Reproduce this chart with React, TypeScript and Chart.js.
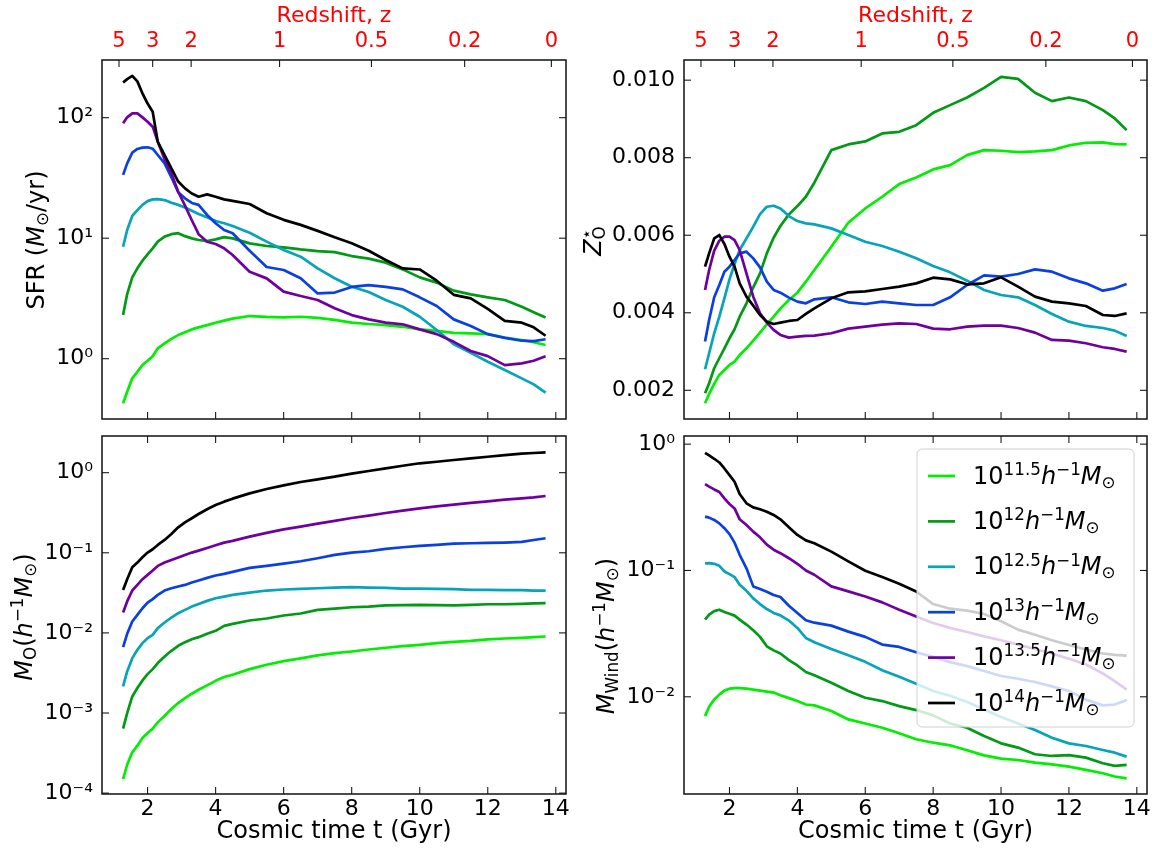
import React, { useEffect, useRef } from "react";
import { Chart, registerables } from "chart.js";

Chart.register(...registerables);
Chart.defaults.font.family = '"DejaVu Sans", sans-serif';

// ---------------- data ----------------
const TIME = [1.28, 1.4, 1.55, 1.7, 1.85, 2.0, 2.15, 2.3, 2.5, 2.7, 2.9, 3.1, 3.3, 3.5, 3.75, 4.0, 4.25, 4.5, 5.0, 5.5, 6.0, 6.5, 7.0, 7.5, 8.0, 8.5, 9.0, 9.5, 10.0, 10.5, 11.0, 11.5, 12.0, 12.5, 13.0, 13.35, 13.7];

// SFR (Msun/yr)
const SFR_LIME = [0.426, 0.532, 0.687, 0.78, 0.885, 0.962, 1.05, 1.22, 1.34, 1.46, 1.57, 1.66, 1.75, 1.82, 1.9, 1.99, 2.07, 2.15, 2.26, 2.22, 2.2, 2.23, 2.18, 2.1, 1.99, 1.94, 1.9, 1.84, 1.75, 1.7, 1.64, 1.62, 1.6, 1.5, 1.43, 1.37, 1.3];
const SFR_GREEN = [2.3, 3.44, 4.73, 5.62, 6.51, 7.34, 8.24, 9.36, 10.3, 10.8, 11.0, 10.4, 9.97, 9.66, 9.47, 9.78, 10.2, 9.97, 9.06, 8.61, 8.39, 8.07, 7.82, 7.67, 7.11, 6.76, 6.27, 5.51, 4.73, 4.28, 3.67, 3.42, 3.23, 3.07, 2.7, 2.43, 2.2];
const SFR_TEAL = [8.5, 11.7, 15.3, 17.1, 18.9, 20.3, 21.0, 21.1, 20.7, 19.7, 18.9, 18.0, 16.9, 15.9, 14.9, 13.9, 13.3, 12.6, 11.1, 9.36, 7.98, 7.02, 5.62, 4.65, 3.96, 3.58, 3.07, 2.7, 2.23, 1.73, 1.32, 1.12, 0.944, 0.805, 0.687, 0.612, 0.523];
const SFR_BLUE = [33.5, 41.8, 51.3, 55.0, 56.4, 56.8, 55.3, 49.0, 41.8, 32.0, 24.1, 21.4, 19.6, 18.9, 15.6, 13.3, 11.7, 11.0, 7.87, 5.77, 5.45, 4.65, 3.48, 3.54, 3.94, 4.08, 3.94, 3.76, 3.23, 2.74, 2.12, 1.87, 1.6, 1.49, 1.41, 1.4, 1.45];
const SFR_PURPLE = [89.7, 100.6, 108.6, 108.6, 100.6, 92.6, 84.2, 63.2, 45.1, 34.5, 24.3, 18.6, 14.1, 10.8, 9.35, 8.95, 8.24, 7.25, 5.27, 4.64, 3.6, 3.31, 3.07, 2.62, 2.3, 2.12, 1.99, 1.93, 1.75, 1.6, 1.38, 1.16, 1.05, 0.885, 0.914, 0.962, 1.05];
const SFR_BLACK = [196, 209, 222, 200, 159, 131, 112, 63, 49, 38, 29.5, 25.9, 23.5, 22.1, 23.1, 22.1, 21.0, 20.4, 19.2, 16.1, 14.2, 12.9, 11.5, 10.2, 9.06, 7.87, 6.59, 5.62, 5.5, 4.44, 3.39, 3.17, 2.59, 2.06, 1.99, 1.82, 1.55];

// Stellar oxygen metallicity
const Z_LIME = [0.001667, 0.001907, 0.002165, 0.002397, 0.002526, 0.002655, 0.002741, 0.002912, 0.003084, 0.003282, 0.003488, 0.003703, 0.0039, 0.004107, 0.00433, 0.004519, 0.004802, 0.005103, 0.005704, 0.006323, 0.006692, 0.006993, 0.00732, 0.007491, 0.007698, 0.007809, 0.008067, 0.008196, 0.008179, 0.008144, 0.008162, 0.008196, 0.008316, 0.008385, 0.008393, 0.008351, 0.008342];
const Z_GREEN = [0.001924, 0.002182, 0.002569, 0.002827, 0.003084, 0.003342, 0.003574, 0.0039, 0.004244, 0.004656, 0.005017, 0.005533, 0.005936, 0.006237, 0.006538, 0.006753, 0.006993, 0.007354, 0.008196, 0.008342, 0.008419, 0.008625, 0.008668, 0.00884, 0.009158, 0.009356, 0.009553, 0.009802, 0.010086, 0.010034, 0.009674, 0.009459, 0.009553, 0.009459, 0.009227, 0.009012, 0.008711];
const Z_TEAL = [0.002543, 0.002955, 0.003471, 0.0039, 0.004373, 0.004863, 0.005258, 0.005619, 0.005919, 0.00622, 0.006546, 0.006735, 0.006761, 0.006692, 0.006495, 0.006366, 0.006306, 0.00628, 0.006177, 0.006005, 0.005833, 0.005722, 0.005576, 0.005404, 0.005206, 0.005043, 0.004828, 0.004588, 0.004459, 0.004399, 0.004201, 0.003969, 0.003771, 0.00366, 0.003608, 0.00354, 0.003402];
const Z_BLUE = [0.003256, 0.003814, 0.004399, 0.004716, 0.00506, 0.005189, 0.005361, 0.005533, 0.005576, 0.005404, 0.005172, 0.004802, 0.004588, 0.004519, 0.00439, 0.004287, 0.004244, 0.004347, 0.004399, 0.00427, 0.004227, 0.004287, 0.004244, 0.004201, 0.004201, 0.004399, 0.004716, 0.004966, 0.004931, 0.005, 0.00512, 0.00506, 0.004888, 0.004759, 0.00457, 0.004631, 0.004742];
const Z_PURPLE = [0.004588, 0.005103, 0.005601, 0.005859, 0.005962, 0.005962, 0.005876, 0.005619, 0.005017, 0.004416, 0.003986, 0.003746, 0.003557, 0.003428, 0.003359, 0.003385, 0.003402, 0.003411, 0.003471, 0.003591, 0.003643, 0.003694, 0.003729, 0.003711, 0.003591, 0.003574, 0.003643, 0.003668, 0.003668, 0.003608, 0.003488, 0.003299, 0.003282, 0.003213, 0.00311, 0.003067, 0.002998];
const Z_BLACK = [0.005189, 0.005533, 0.005919, 0.006005, 0.005773, 0.005447, 0.005189, 0.004759, 0.004416, 0.004184, 0.003943, 0.003771, 0.003711, 0.003746, 0.003789, 0.003814, 0.003969, 0.004115, 0.004373, 0.004528, 0.004553, 0.004613, 0.004674, 0.004759, 0.004905, 0.004862, 0.004734, 0.004759, 0.004914, 0.004674, 0.004416, 0.004287, 0.004244, 0.004175, 0.003943, 0.003918, 0.003986];

// Oxygen mass (h^-1 Msun)
const MO_LIME = [0.00015, 0.000226, 0.000323, 0.000391, 0.000487, 0.000562, 0.000637, 0.000764, 0.000924, 0.00112, 0.00133, 0.00153, 0.00174, 0.00195, 0.00221, 0.00252, 0.00281, 0.003, 0.00353, 0.004, 0.00444, 0.0048, 0.00523, 0.00559, 0.00586, 0.00621, 0.00652, 0.00684, 0.0071, 0.00745, 0.00774, 0.00796, 0.00828, 0.00851, 0.00869, 0.00885, 0.00902];
const MO_GREEN = [0.000637, 0.000998, 0.00161, 0.00205, 0.00255, 0.00306, 0.00353, 0.0042, 0.00508, 0.00598, 0.0069, 0.00766, 0.00835, 0.00885, 0.00973, 0.01061, 0.01225, 0.01297, 0.01428, 0.01513, 0.01649, 0.01746, 0.0194, 0.0201, 0.0209, 0.0213, 0.022, 0.0222, 0.0224, 0.0222, 0.022, 0.0224, 0.0228, 0.0228, 0.023, 0.0233, 0.0235];
const MO_TEAL = [0.00215, 0.0033, 0.00484, 0.00615, 0.00745, 0.00859, 0.00946, 0.01146, 0.01349, 0.01556, 0.01762, 0.0194, 0.0213, 0.023, 0.0251, 0.0271, 0.0284, 0.0298, 0.0319, 0.0338, 0.0348, 0.0354, 0.0361, 0.0368, 0.0372, 0.0368, 0.0365, 0.0358, 0.0358, 0.0354, 0.0351, 0.0344, 0.0344, 0.0341, 0.0341, 0.0338, 0.0338];
const MO_BLUE = [0.00664, 0.00973, 0.01387, 0.0168, 0.0203, 0.0239, 0.0264, 0.0298, 0.0338, 0.0361, 0.0379, 0.0397, 0.0425, 0.045, 0.0486, 0.052, 0.0545, 0.0577, 0.0648, 0.0686, 0.0733, 0.0784, 0.0855, 0.094, 0.1006, 0.1045, 0.1117, 0.1172, 0.1218, 0.1254, 0.13, 0.1315, 0.1327, 0.134, 0.1367, 0.1446, 0.1518];
const MO_PURPLE = [0.01796, 0.0247, 0.0338, 0.0397, 0.0468, 0.053, 0.06, 0.0686, 0.0755, 0.0815, 0.0871, 0.094, 0.1006, 0.1065, 0.115, 0.124, 0.134, 0.141, 0.159, 0.177, 0.196, 0.212, 0.231, 0.25, 0.272, 0.291, 0.314, 0.336, 0.359, 0.38, 0.399, 0.419, 0.439, 0.461, 0.479, 0.492, 0.512];
const MO_BLACK = [0.0344, 0.0468, 0.066, 0.0755, 0.088, 0.1006, 0.1107, 0.1254, 0.1446, 0.1718, 0.208, 0.24, 0.27, 0.305, 0.349, 0.395, 0.435, 0.474, 0.552, 0.626, 0.695, 0.765, 0.826, 0.891, 0.972, 1.05, 1.13, 1.22, 1.31, 1.37, 1.44, 1.51, 1.58, 1.66, 1.73, 1.76, 1.79];

// Wind mass (h^-1 Msun)
const MW_LIME = [0.00703, 0.00834, 0.00952, 0.0104, 0.0112, 0.0116, 0.0117, 0.0117, 0.0116, 0.0114, 0.0112, 0.011, 0.0108, 0.0103, 0.00976, 0.00925, 0.00869, 0.00855, 0.00771, 0.00662, 0.00615, 0.00569, 0.00514, 0.00461, 0.00433, 0.00413, 0.00377, 0.00344, 0.00324, 0.00316, 0.00301, 0.00292, 0.0028, 0.00264, 0.00248, 0.00234, 0.00226];
const MW_GREEN = [0.0408, 0.0447, 0.0477, 0.0489, 0.0469, 0.0455, 0.0439, 0.0408, 0.0373, 0.0336, 0.0298, 0.0251, 0.0233, 0.022, 0.0195, 0.0177, 0.0157, 0.0148, 0.0129, 0.0111, 0.00982, 0.00925, 0.00844, 0.00785, 0.00713, 0.00615, 0.00569, 0.00489, 0.00428, 0.00396, 0.00351, 0.0034, 0.00345, 0.0033, 0.00298, 0.00284, 0.00289];
const MW_TEAL = [0.1136, 0.1143, 0.1129, 0.1089, 0.0982, 0.0935, 0.0886, 0.077, 0.069, 0.0601, 0.0542, 0.0495, 0.0461, 0.0441, 0.0401, 0.0351, 0.0292, 0.027, 0.0239, 0.0213, 0.0189, 0.0162, 0.0144, 0.0127, 0.0111, 0.0102, 0.00908, 0.00794, 0.00691, 0.00615, 0.00545, 0.00474, 0.00428, 0.00408, 0.00379, 0.00361, 0.00336];
const MW_BLUE = [0.267, 0.262, 0.251, 0.236, 0.216, 0.194, 0.166, 0.133, 0.104, 0.0748, 0.0713, 0.0679, 0.0639, 0.0616, 0.0526, 0.0461, 0.0403, 0.0386, 0.0366, 0.0328, 0.0298, 0.0259, 0.0248, 0.0225, 0.0207, 0.0188, 0.0175, 0.016, 0.0146, 0.0139, 0.0131, 0.0121, 0.0111, 0.0095, 0.00855, 0.00869, 0.00941];
const MW_PURPLE = [0.483, 0.461, 0.438, 0.418, 0.372, 0.336, 0.31, 0.254, 0.229, 0.203, 0.183, 0.16, 0.146, 0.137, 0.125, 0.113, 0.1, 0.0925, 0.0748, 0.0683, 0.0623, 0.0559, 0.0489, 0.0433, 0.0384, 0.0351, 0.0326, 0.0301, 0.028, 0.0259, 0.0239, 0.022, 0.02, 0.018, 0.0153, 0.0133, 0.0114];
const MW_BLACK = [0.854, 0.814, 0.766, 0.716, 0.642, 0.569, 0.504, 0.403, 0.34, 0.316, 0.305, 0.292, 0.275, 0.254, 0.22, 0.191, 0.173, 0.164, 0.141, 0.118, 0.0994, 0.0886, 0.0785, 0.0682, 0.0542, 0.0498, 0.0481, 0.0452, 0.0396, 0.034, 0.031, 0.028, 0.0257, 0.0237, 0.022, 0.0215, 0.0212];

// series meta
const MASS_EXP = ["11.5", "12", "12.5", "13", "13.5", "14"];
const COLORS = ["#00ee00", "#009a14", "#06a4b8", "#0a40e2", "#6f00a0", "#000000"];

// axes
const X_MIN = 0.66;
const X_MAX = 14.3;
const X_TICKS = [2, 4, 6, 8, 10, 12, 14];
const Z_LABELS = ["5", "3", "2", "1", "0.5", "0.2", "0"];
const Z_TICK_TIMES = [1.16, 2.15, 3.28, 5.88, 8.58, 11.32, 13.87];
const METAL_TICKS = [0.002, 0.004, 0.006, 0.008, 0.01];

// ---------------- helpers ----------------
type Seg = { t: string; it?: boolean; pos?: "sup" | "sub"; over?: boolean };

const fontStr = (size: number, it?: boolean) =>
  `${it ? "italic " : ""}${size}px "DejaVu Sans"`;

function layoutRich(ctx: CanvasRenderingContext2D, segs: Seg[], base: number) {
  let x = 0;
  let prevStart = 0;
  let prevW = 0;
  const items: { s: Seg; size: number; sx: number; dy: number }[] = [];
  for (const s of segs) {
    const size = s.pos ? base * 0.7 : base;
    ctx.font = fontStr(size, s.it);
    const w = ctx.measureText(s.t).width;
    let sx = x;
    if (s.over) {
      sx = prevStart;
      x = prevStart + Math.max(prevW, w);
    } else {
      x += w;
    }
    const dy = s.pos === "sup" ? -0.36 * base : s.pos === "sub" ? 0.17 * base : 0;
    items.push({ s, size, sx, dy });
    prevStart = sx;
    prevW = w;
  }
  return { items, width: x };
}

function drawRich(ctx: CanvasRenderingContext2D, segs: Seg[], x: number, y: number, base: number, color: string) {
  const { items } = layoutRich(ctx, segs, base);
  ctx.fillStyle = color;
  ctx.textBaseline = "alphabetic";
  ctx.textAlign = "left";
  for (const it of items) {
    ctx.font = fontStr(it.size, it.s.it);
    ctx.fillText(it.s.t, x + it.sx, y + it.dy);
  }
}

function drawRichRotated(ctx: CanvasRenderingContext2D, segs: Seg[], bx: number, cy: number, base: number) {
  const { width } = layoutRich(ctx, segs, base);
  ctx.save();
  ctx.translate(bx, cy);
  ctx.rotate(-Math.PI / 2);
  drawRich(ctx, segs, -width / 2, 0, base, "#000");
  ctx.restore();
}

const SUP: Record<string, string> = { "0": "⁰", "1": "¹", "2": "²", "3": "³", "4": "⁴", "5": "⁵", "6": "⁶", "7": "⁷", "8": "⁸", "9": "⁹", "-": "⁻" };
const powLabel = (v: number) => "10" + String(Math.round(Math.log10(v))).split("").map((c) => SUP[c] || c).join("");

function logTicks(min: number, max: number) {
  const out: { value: number; major: boolean }[] = [];
  for (let e = Math.floor(Math.log10(min)); e <= Math.ceil(Math.log10(max)); e++) {
    for (let k = 1; k <= 9; k++) {
      const v = k * Math.pow(10, e);
      if (v >= min * 0.9999 && v <= max * 1.0001) out.push({ value: v, major: k === 1 });
    }
  }
  return out;
}

const legendSegs = (exp: string): Seg[] => [
  { t: "10" },
  { t: exp, pos: "sup" },
  { t: "h", it: true },
  { t: "−1", pos: "sup" },
  { t: "M", it: true },
  { t: "⊙", pos: "sub" },
];

const TITLE_SFR: Seg[] = [{ t: "SFR (" }, { t: "M", it: true }, { t: "⊙", pos: "sub" }, { t: "/yr)" }];
const TITLE_Z: Seg[] = [{ t: "Z", it: true }, { t: "⋆", pos: "sup" }, { t: "O", pos: "sub", over: true }];
const TITLE_MO: Seg[] = [{ t: "M", it: true }, { t: "O", pos: "sub" }, { t: "(" }, { t: "h", it: true }, { t: "−1", pos: "sup" }, { t: "M", it: true }, { t: "⊙", pos: "sub" }, { t: ")" }];
const TITLE_MW: Seg[] = [{ t: "M", it: true }, { t: "Wind", pos: "sub" }, { t: "(" }, { t: "h", it: true }, { t: "−1", pos: "sup" }, { t: "M", it: true }, { t: "⊙", pos: "sub" }, { t: ")" }];

// ---------------- plugins ----------------
const frameTicksPlugin = {
  id: "frameTicks",
  afterDraw(chart: any, _args: any, opts: any) {
    const { ctx, chartArea: a, scales } = chart;
    ctx.save();
    ctx.strokeStyle = "#1a1a1a";
    ctx.lineWidth = 1.1;
    const line = (x1: number, y1: number, x2: number, y2: number) => {
      ctx.beginPath();
      ctx.moveTo(x1, y1);
      ctx.lineTo(x2, y2);
      ctx.stroke();
    };
    const xs = scales.x;
    for (const t of xs.ticks) {
      const px = xs.getPixelForValue(t.value);
      if (px < a.left || px > a.right) continue;
      line(px, a.bottom, px, a.bottom - 7);
      if (opts.mirrorX) line(px, a.top, px, a.top + 7);
    }
    if (scales.x2) {
      const s2 = scales.x2;
      for (const t of s2.ticks) {
        const px = s2.getPixelForValue(t.value);
        if (px < a.left || px > a.right) continue;
        line(px, a.top, px, a.top + 7);
      }
    }
    const ys = scales.y;
    for (const t of ys.ticks) {
      const py = ys.getPixelForValue(t.value);
      if (py < a.top - 0.5 || py > a.bottom + 0.5) continue;
      const len = t.major ? 7 : 3.5;
      line(a.left, py, a.left + len, py);
      line(a.right, py, a.right - len, py);
    }
    ctx.lineWidth = 1.5;
    ctx.strokeStyle = "#111";
    ctx.strokeRect(a.left, a.top, a.right - a.left, a.bottom - a.top);
    if (opts.title) drawRichRotated(ctx, opts.title, opts.titleX, opts.titleY, 24);
    ctx.restore();
  },
};

const richLegendPlugin = {
  id: "richLegend",
  afterDatasetsDraw(chart: any, _args: any, opts: any) {
    if (!opts || !opts.show) return;
    const ctx = chart.ctx as CanvasRenderingContext2D;
    const { x, y, w, h, r } = opts;
    ctx.save();
    ctx.beginPath();
    ctx.moveTo(x + r, y);
    ctx.lineTo(x + w - r, y);
    ctx.arcTo(x + w, y, x + w, y + r, r);
    ctx.lineTo(x + w, y + h - r);
    ctx.arcTo(x + w, y + h, x + w - r, y + h, r);
    ctx.lineTo(x + r, y + h);
    ctx.arcTo(x, y + h, x, y + h - r, r);
    ctx.lineTo(x, y + r);
    ctx.arcTo(x, y, x + r, y, r);
    ctx.closePath();
    ctx.fillStyle = "rgba(255,255,255,0.8)";
    ctx.fill();
    ctx.strokeStyle = "#d0d0d0";
    ctx.lineWidth = 1;
    ctx.stroke();
    chart.data.datasets.forEach((ds: any, i: number) => {
      const ry = opts.row0 + i * opts.rowStep;
      ctx.strokeStyle = ds.borderColor;
      ctx.lineWidth = 2.7;
      ctx.beginPath();
      ctx.moveTo(opts.hx0, ry);
      ctx.lineTo(opts.hx1, ry);
      ctx.stroke();
      drawRich(ctx, legendSegs(MASS_EXP[i]), opts.tx, ry + 7.5, 24, "#000");
    });
    ctx.restore();
  },
};

// ---------------- panels ----------------
type Panel = {
  left: number; top: number; w: number; h: number;
  series: number[][];
  yType: "logarithmic" | "linear";
  yMin: number; yMax: number;
  yTicks: { value: number; major: boolean }[];
  yFmt: (v: number) => string;
  topAxis: boolean; bottomLabels: boolean;
  pad: { left: number; right: number; top: number; bottom: number };
  yWidth: number; xHeight: number; topHeight: number;
  title: Seg[]; titleX: number; titleY: number;
  legend: boolean;
};

const PANELS: Panel[] = [
  {
    left: 0, top: 0, w: 580, h: 428,
    series: [SFR_LIME, SFR_GREEN, SFR_TEAL, SFR_BLUE, SFR_PURPLE, SFR_BLACK],
    yType: "logarithmic", yMin: 0.316, yMax: 301, yTicks: logTicks(0.316, 301), yFmt: powLabel,
    topAxis: true, bottomLabels: false,
    pad: { left: 0, right: 14, top: 0, bottom: 0 }, yWidth: 102, xHeight: 9, topHeight: 60,
    title: TITLE_SFR, titleX: 44, titleY: 240, legend: false,
  },
  {
    left: 580, top: 0, w: 577, h: 428,
    series: [Z_LIME, Z_GREEN, Z_TEAL, Z_BLUE, Z_PURPLE, Z_BLACK],
    yType: "linear", yMin: 0.00126, yMax: 0.01052, yTicks: METAL_TICKS.map((v) => ({ value: v, major: true })),
    yFmt: (v) => v.toFixed(3),
    topAxis: true, bottomLabels: false,
    pad: { left: 0, right: 10, top: 0, bottom: 0 }, yWidth: 104, xHeight: 9, topHeight: 60,
    title: TITLE_Z, titleX: 21, titleY: 241, legend: false,
  },
  {
    left: 0, top: 428, w: 580, h: 426,
    series: [MO_LIME, MO_GREEN, MO_TEAL, MO_BLUE, MO_PURPLE, MO_BLACK],
    yType: "logarithmic", yMin: 9.75e-5, yMax: 2.87, yTicks: logTicks(9.75e-5, 2.87), yFmt: powLabel,
    topAxis: false, bottomLabels: true,
    pad: { left: 0, right: 14, top: 8, bottom: 0 }, yWidth: 102, xHeight: 60, topHeight: 0,
    title: TITLE_MO, titleX: 32, titleY: 189, legend: false,
  },
  {
    left: 580, top: 428, w: 577, h: 426,
    series: [MW_LIME, MW_GREEN, MW_TEAL, MW_BLUE, MW_PURPLE, MW_BLACK],
    yType: "logarithmic", yMin: 0.0017, yMax: 1.16, yTicks: logTicks(0.0017, 1.16), yFmt: powLabel,
    topAxis: false, bottomLabels: true,
    pad: { left: 0, right: 10, top: 8, bottom: 0 }, yWidth: 104, xHeight: 60, topHeight: 0,
    title: TITLE_MW, titleX: 34, titleY: 208, legend: true,
  },
];

function buildConfig(p: Panel): any {
  const scales: any = {
    x: {
      type: "linear", position: "bottom", min: X_MIN, max: X_MAX, bounds: "data",
      grid: { display: false, drawTicks: false }, border: { display: false },
      afterBuildTicks: (s: any) => { s.ticks = X_TICKS.map((v) => ({ value: v, major: true })); },
      afterFit: (s: any) => { s.height = p.xHeight; s.paddingLeft = 0; s.paddingRight = 0; },
      ticks: {
        display: p.bottomLabels, autoSkip: false, maxRotation: 0, padding: 2,
        font: { size: 22 }, color: "#000", callback: (v: any) => String(v),
      },
      title: {
        display: p.bottomLabels, text: "Cosmic time t (Gyr)", color: "#000",
        font: { size: 24 }, padding: { top: 0, bottom: 8 },
      },
    },
    y: {
      type: p.yType, position: "left", min: p.yMin, max: p.yMax, bounds: "data",
      grid: { display: false, drawTicks: false }, border: { display: false },
      afterBuildTicks: (s: any) => { s.ticks = p.yTicks.map((t) => ({ ...t })); },
      afterFit: (s: any) => { s.width = p.yWidth; s.paddingTop = 0; s.paddingBottom = 0; },
      ticks: {
        autoSkip: false, padding: 9, font: { size: 22 }, color: "#000",
        callback: (v: any, i: number, ticks: any[]) => (ticks[i] && ticks[i].major ? p.yFmt(Number(v)) : null),
      },
    },
  };
  if (p.topAxis) {
    scales.x2 = {
      type: "linear", position: "top", min: X_MIN, max: X_MAX, bounds: "data",
      grid: { display: false, drawTicks: false }, border: { display: false },
      afterBuildTicks: (s: any) => { s.ticks = Z_TICK_TIMES.map((v) => ({ value: v, major: true })); },
      afterFit: (s: any) => { s.height = p.topHeight; s.paddingLeft = 0; s.paddingRight = 0; },
      ticks: {
        autoSkip: false, maxRotation: 0, padding: 6, color: "#ff0000", font: { size: 21 },
        callback: (_v: any, i: number) => Z_LABELS[i],
      },
      title: {
        display: true, text: "Redshift, z", color: "#ff0000", font: { size: 22 },
        padding: { top: 3, bottom: 0 },
      },
    };
  }
  return {
    type: "line",
    data: {
      datasets: p.series.map((arr, i) => ({
        label: MASS_EXP[i],
        data: TIME.map((t, j) => ({ x: t, y: arr[j] })),
        borderColor: COLORS[i],
        backgroundColor: COLORS[i],
        borderWidth: 2.7,
        pointRadius: 0,
        fill: false,
        tension: 0,
        borderJoinStyle: "round",
        order: 5 - i,
        xAxisID: "x",
        yAxisID: "y",
      })),
    },
    options: {
      responsive: false,
      animation: false,
      devicePixelRatio: 1,
      events: [],
      layout: { padding: p.pad },
      scales,
      plugins: {
        legend: { display: false },
        tooltip: { enabled: false },
        frameTicks: { mirrorX: !p.topAxis, title: p.title, titleX: p.titleX, titleY: p.titleY },
        richLegend: p.legend
          ? { show: true, x: 337, y: 21, w: 217, h: 278, r: 5, hx0: 348, hx1: 375, tx: 393, row0: 48, rowStep: 45.4 }
          : { show: false },
      },
    },
    plugins: [frameTicksPlugin, richLegendPlugin],
  };
}

export default function App() {
  const refs = useRef<(HTMLCanvasElement | null)[]>([]);
  useEffect(() => {
    const charts = PANELS.map((p, i) => new Chart(refs.current[i] as HTMLCanvasElement, buildConfig(p)));
    return () => charts.forEach((c) => c.destroy());
  }, []);
  return (
    <div style={{ position: "fixed", left: 0, top: 0, width: 1157, height: 854, background: "#fff" }}>
      {PANELS.map((p, i) => (
        <canvas
          key={i}
          ref={(el) => { refs.current[i] = el; }}
          width={p.w}
          height={p.h}
          style={{ position: "absolute", left: p.left, top: p.top, width: p.w, height: p.h }}
        />
      ))}
    </div>
  );
}
